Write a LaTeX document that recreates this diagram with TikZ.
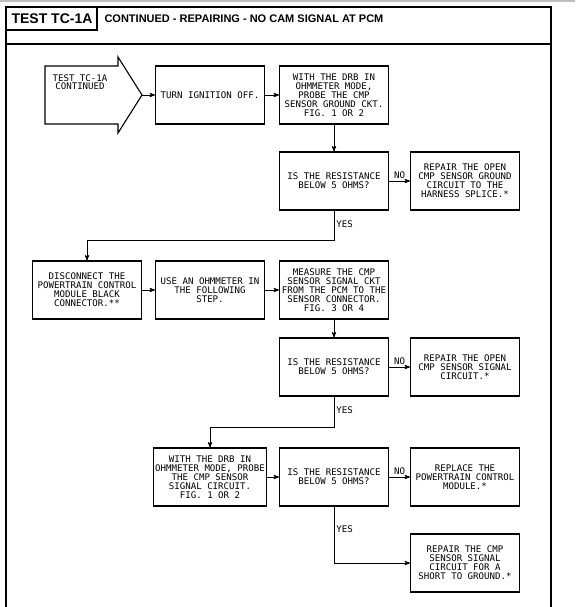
\documentclass[tikz,border=0pt]{standalone}
\usepackage{fontspec}
\newfontfamily\chartfont{DejaVu Sans Mono}
\newfontfamily\headfont{Liberation Sans}
\usetikzlibrary{positioning,arrows}

\begin{document}
\begin{tikzpicture}[x=1pt,y=-1pt]
\useasboundingbox (0,0) rectangle (575,607);
% Page frame and heading
\draw[gray!50,line width=1.5pt] (0,1) -- (575,1);
\draw[line width=1.6pt] (6,607) -- (6,7) -- (551,7) -- (551,607);
\draw[line width=1.4pt] (6,44) -- (551,44);
\draw[line width=1.4pt] (6,30) -- (97,30) -- (97,7);
\node[font=\headfont\bfseries\fontsize{14}{14}\selectfont] (testno) at (52,18.5) {TEST TC-1A};
\node[anchor=west,font=\headfont\bfseries\fontsize{11}{12}\selectfont] (heading) at (101,19) {CONTINUED - REPAIRING - NO CAM SIGNAL AT PCM};
% Draw Flow Chart
   \begin{scope}[ node distance=124pt,on grid,>=stealth',
                   block/.style={rectangle,draw,line width=1.1pt,minimum width=109pt,
                                 minimum height=58pt,align=center,inner sep=1.5pt,
                                 font=\chartfont\fontsize{9.1}{9}\selectfont},
                   answer/.style={font=\chartfont\fontsize{9.1}{9}\selectfont,inner sep=2pt},
                   every edge/.style={draw,line width=0.9pt} ]
     \draw[line width=1.1pt] (45,66) -- (118,66) -- (118,57) -- (142,95)
         -- (118,133) -- (118,124) -- (45,124) -- cycle;
     \coordinate (tip) at (142,95);
     \node [align=center,font=\chartfont\fontsize{9.1}{8.6}\selectfont] (start) at (80,82) {TEST TC-1A\\CONTINUED};
     \node [block] (ignoff) at (210,95)     {TURN IGNITION OFF.} edge [<-] (tip);
     \node [block] (probe1) [right=of ignoff] {WITH THE DRB IN\\OHMMETER MODE,\\PROBE THE CMP\\SENSOR GROUND CKT.\\FIG. 1 OR 2} edge [<-] (ignoff);
     \node [block] (ask1)   [below=86pt of probe1] {IS THE RESISTANCE\\BELOW 5 OHMS?} edge [<-] (probe1);
     \node [block] (fixgnd) [right=131pt of ask1] {REPAIR THE OPEN\\CMP SENSOR GROUND\\CIRCUIT TO THE\\HARNESS SPLICE.*} edge [<-] node[answer,above] {NO} (ask1);
     \node [block] (meas)   [below=109pt of ask1] {MEASURE THE CMP\\SENSOR SIGNAL CKT\\FROM THE PCM TO THE\\SENSOR CONNECTOR.\\FIG. 3 OR 4};
     \node [block] (useohm) [left=of meas]  {USE AN OHMMETER IN\\THE FOLLOWING\\STEP.} edge [->] (meas);
     \node [block] (unplug) [left=123pt of useohm] {DISCONNECT THE\\POWERTRAIN CONTROL\\MODULE BLACK\\CONNECTOR.**} edge [->] (useohm);
     \node [block] (ask2)   [below=77pt of meas] {IS THE RESISTANCE\\BELOW 5 OHMS?} edge [<-] (meas);
     \node [block] (fixsig) [right=131pt of ask2] {REPAIR THE OPEN\\CMP SENSOR SIGNAL\\CIRCUIT.*} edge [<-] node[answer,above] {NO} (ask2);
     \node [block] (ask3)   [below=110pt of ask2] {IS THE RESISTANCE\\BELOW 5 OHMS?};
     \node [block] (probe2) [left=of ask3]  {WITH THE DRB IN\\OHMMETER MODE, PROBE\\THE CMP SENSOR\\SIGNAL CIRCUIT.\\FIG. 1 OR 2} edge [->] (ask3);
     \node [block] (newpcm) [right=131pt of ask3] {REPLACE THE\\POWERTRAIN CONTROL\\MODULE.*} edge [<-] node[answer,above] {NO} (ask3);
     \node [block] (fixsht) [below=86pt of newpcm] {REPAIR THE CMP\\SENSOR SIGNAL\\CIRCUIT FOR A\\SHORT TO GROUND.*};
     % YES branches
     \draw[->,line width=0.9pt] (ask1.south) -- node[answer,right,pos=0.45] {YES} ++(0,30) -| (unplug.north);
     \draw[->,line width=0.9pt] (ask2.south) -- node[answer,right,pos=0.45] {YES} ++(0,31) -| (probe2.north);
     \draw[->,line width=0.9pt] (ask3.south) |- node[answer,right,pos=0.2] {YES} (fixsht.west);
   \end{scope}
\end{tikzpicture}
\end{document}
